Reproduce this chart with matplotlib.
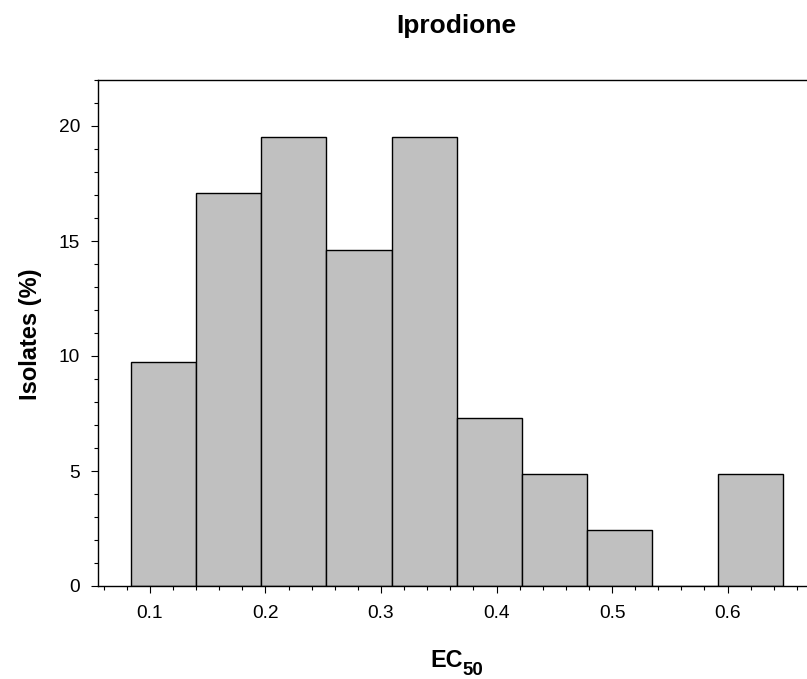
import matplotlib
matplotlib.use("Agg")
import matplotlib.pyplot as plt
from matplotlib.ticker import MultipleLocator
import numpy as np

plt.rcParams['font.family'] = ['Liberation Sans', 'DejaVu Sans']

# Histogram data (percent of isolates per EC50 bin)
bin_edges = [0.0833, 0.1398, 0.1962, 0.2527, 0.3091, 0.3656,
             0.4220, 0.4785, 0.5349, 0.5914, 0.6478]
percent = [9.76, 17.07, 19.51, 14.63, 19.51, 7.32, 4.88, 2.44, 0.0, 4.88]
x_ticks = [0.1, 0.2, 0.3, 0.4, 0.5, 0.6]
x_tick_labels = ["0.1", "0.2", "0.3", "0.4", "0.5", "0.6"]
y_ticks = [0, 5, 10, 15, 20]

W, H = 807, 679
fig = plt.figure(figsize=(W / 100, H / 100), dpi=100)
ax = fig.add_axes([98 / W, (H - 586) / H, (807 - 98) / W, (586 - 80) / H])

edges = np.array(bin_edges)
ax.bar(edges[:-1], percent, width=np.diff(edges), align='edge',
       color='#c0c0c0', edgecolor='black', linewidth=1.0, zorder=2)

ax.set_xlim(0.055, 0.6688)
ax.set_ylim(0, 22)
ax.set_xticks(x_ticks)
ax.set_xticklabels(x_tick_labels)
ax.set_yticks(y_ticks)
ax.xaxis.set_minor_locator(MultipleLocator(0.02))
ax.yaxis.set_minor_locator(MultipleLocator(1))

ax.spines['right'].set_visible(False)
for s in ['left', 'bottom', 'top']:
    ax.spines[s].set_linewidth(1.0)

ax.tick_params(which='major', direction='out', length=5, width=0.8,
               labelsize=13.8)
ax.tick_params(which='minor', direction='out', length=3, width=0.8)
ax.tick_params(axis='y', which='major', pad=8)
ax.tick_params(axis='x', which='major', pad=9)
ax.tick_params(top=False, which='both')

fig.text(456.7 / W, (H - 33.3) / H, "Iprodione", ha='center', va='baseline',
         fontsize=19, fontweight='bold')
fig.text(30 / W, (H - 334) / H, "Isolates (%)", ha='center', va='center',
         rotation=90, fontsize=17, fontweight='bold')
fig.text(430 / W, (H - 667) / H, "EC", ha='left', va='baseline',
         fontsize=16.8, fontweight='bold')
fig.text(462 / W, (H - 675) / H, "50", ha='left', va='baseline',
         fontsize=13.4, fontweight='bold')

fig.savefig("out.png", dpi=100)
